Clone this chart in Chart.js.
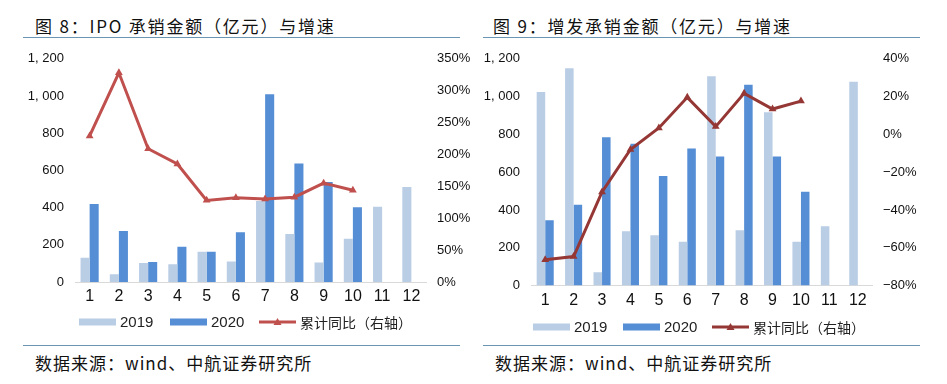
<!DOCTYPE html>
<html>
<head>
<meta charset="utf-8">
<script src="https://cdn.jsdelivr.net/npm/chart.js@4/dist/chart.umd.min.js"></script>
<style>
  body { margin: 0; width: 947px; height: 384px; background: #fff; position: relative; overflow: hidden;
         font-family: "Noto Sans CJK SC", "DejaVu Sans", sans-serif; }
  .title { position: absolute; top: 13px; font-size: 17px; color: #111; white-space: nowrap; letter-spacing: 1.8px; }
  .src { position: absolute; top: 350px; font-size: 17px; color: #111; white-space: nowrap; letter-spacing: 1px; }
  .rule { position: absolute; height: 1px; background: #6a96b4; }
  canvas { position: absolute; }
</style>
</head>
<body>
<div class="title" style="left:35px">图 8：IPO 承销金额（亿元）与增速</div>
<div class="title" style="left:493px">图 9：增发承销金额（亿元）与增速</div>
<div class="rule" style="left:23px;width:437px;top:37px"></div>
<div class="rule" style="left:483px;width:437px;top:37px"></div>
<div class="rule" style="left:23px;width:437px;top:345px"></div>
<div class="rule" style="left:483px;width:437px;top:345px"></div>
<div class="src" style="left:35px">数据来源：wind、中航证券研究所</div>
<div class="src" style="left:495px">数据来源：wind、中航证券研究所</div>

<div style="position:absolute;left:0;top:40px;width:470px;height:300px"><canvas id="ipoChart"></canvas></div>
<div style="position:absolute;left:475px;top:40px;width:472px;height:300px"><canvas id="seoChart"></canvas></div>

<script>
// 数据
const months = ['1', '2', '3', '4', '5', '6', '7', '8', '9', '10', '11', '12'];
const ipo2019 = [131, 42, 102, 95, 163, 110, 435, 258, 105, 232, 405, 511];
const ipo2020 = [419, 274, 107, 189, 163, 268, 1010, 637, 537, 402, null, null];
const ipoYoY = [229, 328, 209, 185, 128, 132, 130, 133, 155, 144, null, null];
const seo2019 = [1024, 1150, 70, 287, 266, 231, 1107, 293, 917, 231, 314, 1078];
const seo2020 = [345, 428, 785, 750, 579, 725, 683, 1062, 683, 496, null, null];
const seoYoY = [-66.4, -64.7, -30.5, -8, 3.4, 19.6, 4.1, 21.7, 13.4, 17.6, null, null];
const seriesNames = ['2019', '2020', '累计同比（右轴）'];

const c2019 = '#b9cde5';
const c2020 = '#558ed5';

// 自定义图例
const legendPlugin = {
    id: 'customLegend',
    afterDraw(chart, args, opts) {
        const ctx = chart.ctx;
        const y = opts.y;
        ctx.save();
        ctx.textBaseline = 'middle';
        const metas = [chart.data.datasets[1], chart.data.datasets[2], chart.data.datasets[0]];
        metas.forEach((ds, i) => {
            const x = opts.xs[i];
            if (ds.type === 'line') {
                ctx.strokeStyle = ds.borderColor;
                ctx.lineWidth = 3;
                ctx.beginPath();
                ctx.moveTo(x, y);
                ctx.lineTo(x + 37, y);
                ctx.stroke();
                ctx.fillStyle = ds.borderColor;
                ctx.beginPath();
                ctx.moveTo(x + 18.5, y - 4);
                ctx.lineTo(x + 22.5, y + 3);
                ctx.lineTo(x + 14.5, y + 3);
                ctx.closePath();
                ctx.fill();
                ctx.font = '14px "Noto Sans CJK SC"';
            } else {
                ctx.fillStyle = ds.backgroundColor;
                ctx.fillRect(x, y - 3.5, 37, 7);
                ctx.font = '15px "Liberation Sans"';
            }
            ctx.fillStyle = '#222';
            ctx.fillText(ds.label, x + 41, y + 1);
        });
        ctx.restore();
    }
};

function makeChart(id, d2019, d2020, yoy, lineColor, cfg) {
    const ctx = document.getElementById(id).getContext('2d');
    return new Chart(ctx, {
        type: 'bar',
        data: {
            labels: months,
            datasets: [
                {
                    type: 'line', label: seriesNames[2], data: yoy, yAxisID: 'y1', order: 0,
                    borderColor: lineColor, backgroundColor: lineColor, borderWidth: 3,
                    pointStyle: 'triangle', pointRadius: 4.5, pointBackgroundColor: lineColor,
                    pointBorderWidth: 0, tension: 0, spanGaps: false
                },
                { label: seriesNames[0], data: d2019, backgroundColor: c2019, yAxisID: 'y', order: 1,
                  categoryPercentage: cfg.catPct, barPercentage: 1 },
                { label: seriesNames[1], data: d2020, backgroundColor: c2020, yAxisID: 'y', order: 1,
                  categoryPercentage: cfg.catPct, barPercentage: 1 }
            ]
        },
        options: {
            responsive: true,
            maintainAspectRatio: false,
            animation: false,
            layout: { padding: { top: 14, left: 0, right: 0, bottom: 0 } },
            plugins: {
                legend: { display: false },
                tooltip: { enabled: false },
                customLegend: cfg.legend
            },
            scales: {
                x: {
                    grid: { display: false, drawTicks: false },
                    border: { color: '#d9d9d9', width: 1 },
                    ticks: { color: '#111', font: { family: 'Liberation Sans', size: 16 }, padding: 5 },
                    afterFit(s) { s.height = cfg.xHeight; }
                },
                y: {
                    position: 'left', min: 0, max: 1200,
                    grid: { display: false, drawTicks: false },
                    border: { display: false },
                    ticks: {
                        stepSize: 200, padding: 11, color: '#111',
                        font: { family: 'Liberation Sans', size: 13 },
                        callback: v => v.toLocaleString('en-US').replace(',', ', ')
                    },
                    afterFit(s) { s.width = cfg.leftW; }
                },
                y1: {
                    position: 'right', min: cfg.rMin, max: cfg.rMax,
                    grid: { display: false, drawTicks: false },
                    border: { display: false },
                    ticks: {
                        stepSize: cfg.rStep, padding: 11, color: '#111',
                        font: { family: 'Liberation Sans', size: 13 },
                        callback: v => String(v).replace('-', '\u2212') + '%'
                    },
                    afterFit(s) { s.width = cfg.rightW; }
                }
            }
        },
        plugins: [legendPlugin]
    });
}

makeChart('ipoChart', ipo2019, ipo2020, ipoYoY, '#c0504d', {
    catPct: 0.62, xHeight: 58, leftW: 75, rightW: 44,
    rMin: 0, rMax: 350, rStep: 50,
    legend: { y: 282, xs: [79, 170, 259] }
});
makeChart('seoChart', seo2019, seo2020, seoYoY, '#953735', {
    catPct: 0.6, xHeight: 54.5, leftW: 56, rightW: 75,
    rMin: -80, rMax: 40, rStep: 20,
    legend: { y: 287, xs: [58, 148, 237] }
});
</script>
</body>
</html>
